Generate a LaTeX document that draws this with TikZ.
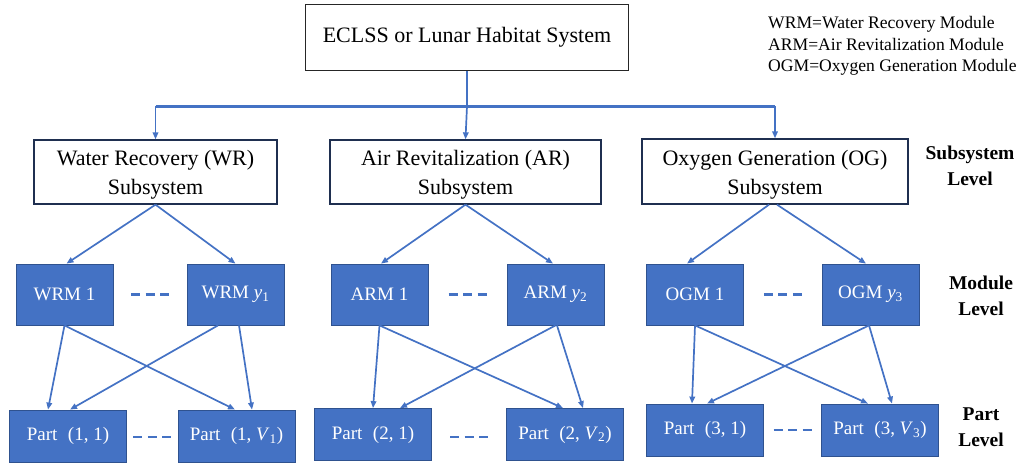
\documentclass[tikz,border=0pt]{standalone}
\usepackage{fontspec}
\setmainfont{Liberation Serif}
\usetikzlibrary{arrows.meta,calc}
\definecolor{blueF}{HTML}{4472C4}
\definecolor{blueD}{HTML}{2F528F}
\definecolor{boxline}{HTML}{1F2F50}
\tikzset{
  wbox/.style={draw=boxline, line width=1.3pt, fill=white, inner sep=0pt, align=center,
    font=\fontsize{22}{29}\selectfont},
  bbox/.style={draw=blueD, line width=0.8pt, fill=blueF, text=white, inner sep=0pt,
    font=\fontsize{19}{23}\selectfont},
  modbox/.style={bbox, minimum width=97pt, minimum height=61pt},
  partbox/.style={bbox, minimum width=117pt, minimum height=52pt},
  arr/.style={draw=blueF, line width=1.7pt, -{Triangle[length=7pt,width=5.5pt]}},
  dashline/.style={draw=blueF, line width=2.2pt, dash pattern=on 9pt off 5.5pt},
  lvl/.style={align=center, font=\fontsize{19.5}{26}\selectfont\bfseries},
  legend/.style={anchor=base west, inner sep=0pt, font=\fontsize{17.6}{20}\selectfont}
}
\newcommand{\ptsp}{\hspace{0.55em}}
\newcommand{\tstrut}{\rule{0pt}{21pt}}
\begin{document}
\begin{tikzpicture}[x=1pt,y=-1pt]
\useasboundingbox (0,0) rectangle (1019,463);
% top
\node[wbox, draw=black!85, minimum width=323pt, minimum height=66pt] (top) at (467,37.5) {ECLSS or Lunar Habitat System};
% legend
\node[legend] (lg1) at (768,28.5) {WRM=Water Recovery Module};
\node[legend] (lg2) at (768,50) {ARM=Air Revitalization Module};
\node[legend] (lg3) at (768,71) {OGM=Oxygen Generation Module};
% subsystems
\node[wbox, minimum width=243pt, minimum height=64pt] (wr) at (155.5,172) {\tstrut Water Recovery (WR)\\Subsystem};
\node[wbox, minimum width=271pt, minimum height=64pt] (ar) at (465.5,172) {\tstrut Air Revitalization (AR)\\Subsystem};
\node[wbox, minimum width=266pt, minimum height=65pt] (og) at (775,171.5) {\tstrut Oxygen Generation (OG)\\Subsystem};
% level labels
\node[lvl] (lvs) at (970,166) {Subsystem\\Level};
\node[lvl] (lvm) at (981,296) {Module\\Level};
\node[lvl] (lvp) at (981,427) {Part\\Level};
% bus
\coordinate (busM) at ($(top.south)+(0,35)$);
\coordinate (busL) at (wr.north |- busM);
\coordinate (busR) at (og.north |- busM);
\draw[draw=blueF, line width=1.8pt] (top.south) -- (busM);
\draw[draw=blueF, line width=3pt] (busL) -- (busR);
\draw[arr] (busL) -- (wr.north);
\draw[arr] (busM) -- (ar.north);
\draw[arr] (busR) -- (og.north);
% modules
\node[modbox] (wrm1) at (64.5,294.5) {WRM 1};
\node[modbox] (wrmy) at (235.5,294.5) {WRM \textit{y}\textsubscript{1}};
\node[modbox] (arm1) at (379.5,294.5) {ARM 1};
\node[modbox] (army) at (555.5,294.5) {ARM \textit{y}\textsubscript{2}};
\node[modbox] (ogm1) at (695,294.5) {OGM 1};
\node[modbox] (ogmy) at (870.5,294.5) {OGM \textit{y}\textsubscript{3}};
% parts
\node[partbox] (p11) at (68,436) {Part\ptsp(1, 1)};
\node[partbox] (p1v) at (236.5,436) {Part\ptsp(1, \textit{V}\textsubscript{1})};
\node[partbox] (p21) at (373,434.5) {Part\ptsp(2, 1)};
\node[partbox] (p2v) at (565,434.5) {Part\ptsp(2, \textit{V}\textsubscript{2})};
\node[partbox] (p31) at (705,430) {Part\ptsp(3, 1)};
\node[partbox] (p3v) at (880,430) {Part\ptsp(3, \textit{V}\textsubscript{3})};
% subsystem -> modules
\draw[arr] (wr.south) -- ($(wrm1.north)+(2,0)$);
\draw[arr] (wr.south) -- (wrmy.north);
\draw[arr] (ar.south) -- ($(arm1.north)+(1.5,0)$);
\draw[arr] (ar.south) -- ($(army.north)+(-2.5,0)$);
\draw[arr] ($(og.south)+(-6,0)$) -- ($(ogm1.north)+(-8,0)$);
\draw[arr] ($(og.south)+(2,0)$) -- ($(ogmy.north)+(-4.5,0)$);
% modules -> parts
\draw[arr] (wrm1.south) -- ($(p11.north)+(-20,0)$);
\draw[arr] (wrm1.south) -- ($(p1v.north)+(-1.5,0)$);
\draw[arr] ($(wrmy.south)+(-17.5,0)$) -- ($(p11.north)+(2,0)$);
\draw[arr] ($(wrmy.south)+(3.5,0)$) -- ($(p1v.north)+(15.5,0)$);
\draw[arr] (arm1.south) -- (p21.north);
\draw[arr] (arm1.south) -- ($(p2v.north)+(-2,0)$);
\draw[arr] (army.south) -- ($(p21.north)+(27,0)$);
\draw[arr] ($(army.south)+(1.5,0)$) -- ($(p2v.north)+(18,0)$);
\draw[arr] (ogm1.south) -- ($(p31.north)+(-13,0)$);
\draw[arr] (ogm1.south) -- ($(p3v.north)+(-12,0)$);
\draw[arr] ($(ogmy.south)+(-1.5,0)$) -- ($(p31.north)+(2,0)$);
\draw[arr] ($(ogmy.south)+(-1.5,0)$) -- ($(p3v.north)+(12,0)$);
% dashes
\draw[dashline] ($(wrm1.east)!0.5!(wrmy.west)+(-19,0)$) -- ++(38,0);
\draw[dashline] ($(arm1.east)!0.5!(army.west)+(-19,0)$) -- ++(38,0);
\draw[dashline] ($(ogm1.east)!0.5!(ogmy.west)+(-19,0)$) -- ++(38,0);
\draw[dashline] ($(p11.east)!0.5!(p1v.west)+(-19,1)$) -- ++(38,0);
\draw[dashline] ($(p21.east)!0.5!(p2v.west)+(-19,2.5)$) -- ++(38,0);
\draw[dashline] ($(p31.east)!0.5!(p3v.west)+(-19,0)$) -- ++(38,0);
\end{tikzpicture}
\end{document}
